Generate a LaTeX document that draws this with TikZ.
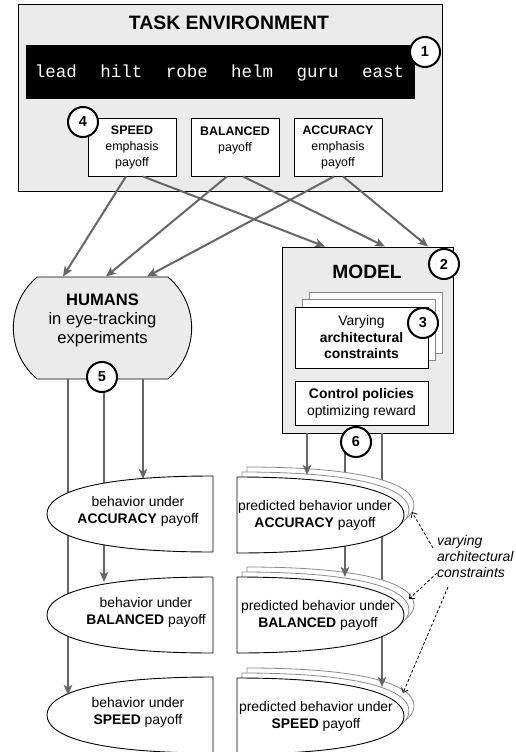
\documentclass[tikz,border=0pt]{standalone}
\usepackage{fontspec}
\setmainfont{Liberation Sans}
\setmonofont{Liberation Mono}
\usetikzlibrary{arrows.meta,positioning,shapes.misc}
\definecolor{envgray}{HTML}{EBEBEB}
\definecolor{flowgray}{HTML}{666666}
\definecolor{stackgray}{HTML}{8A8A8A}
\newcommand{\fs}[2]{\fontsize{#1}{#2}\selectfont}
% half-ellipse outlines of the behaviour boxes (top y as argument)
\newcommand{\humpath}[1]{(213,#1) -- (213,#1+76) .. controls (93,#1+76) and (47,#1+59) .. (47,#1+38) .. controls (47,#1+17) and (93,#1) .. cycle}
\newcommand{\predpath}[2]{(#1,#2) -- (#1,#2+76) .. controls (#1+120,#2+76) and (#1+167,#2+59) .. (#1+167,#2+38) .. controls (#1+167,#2+17) and (#1+120,#2) .. cycle}

\begin{document}
\begin{tikzpicture}[x=1pt,y=-1pt,
  box/.style={draw,line width=0.9pt,fill=white,inner sep=0pt,align=center},
  paybox/.style={box,minimum width=88pt,minimum height=58pt,font=\fs{12.4}{16}},
  stackbox/.style={draw=stackgray,line width=0.8pt,fill=white,inner sep=0pt,minimum width=133pt,minimum height=61pt},
  numdot/.style={circle,draw,line width=2pt,fill=white,minimum size=30pt,inner sep=0pt,font=\fs{14.5}{15}\bfseries},
  flow/.style={flowgray,line width=2pt,-{Stealth[length=10pt,width=8.5pt,inset=2.5pt]}},
  hint/.style={black,line width=0.8pt,dash pattern=on 3pt off 2pt,-{Straight Barb[length=4pt,width=7pt]}},
  txt/.style={align=center,inner sep=0pt,font=\fs{13.9}{17}}]
\useasboundingbox (0,0) rectangle (515,752);

% task environment
\node[draw,line width=1pt,fill=envgray,minimum width=424pt,minimum height=186pt] (taskenv) at (230,98) {};
\node[font=\fs{19.4}{20}\bfseries] (tasktitle) at (229,23) {TASK ENVIRONMENT};
\node[fill=black,minimum width=389pt,minimum height=54pt] (stimuli) at (220.5,72) {};
\foreach \w [count=\i from 0] in {lead,hilt,robe,helm,guru,east}
  \node[anchor=base,text=white,font=\fs{17.5}{18}\ttfamily] (word\i) at (56+65.4*\i,77.5) {\w};
\node[paybox] (speed) at (132,147) {\textbf{SPEED}\\emphasis\\payoff};
\node[paybox] (balanced) at (235,147) {\textbf{BALANCED}\\payoff\\\mbox{}};
\node[paybox] (accuracy) at (338,147) {\textbf{ACCURACY}\\emphasis\\payoff};
\node[numdot] (n1) at (425,52) {1};
\node[numdot] (n4) at (83,122) {4};

% humans
\node[rounded rectangle,rounded rectangle arc length=100,draw,line width=0.9pt,fill=envgray,
  minimum width=185pt,minimum height=102pt,align=center,font=\fs{16.6}{19}] (humans) at (102.5,328)
  {\textbf{HUMANS}\\in eye-tracking\\experiments\\\mbox{}};

% model
\node[draw,line width=0.9pt,fill=envgray,minimum width=171pt,minimum height=186pt] (model) at (367.5,340) {};
\node[font=\fs{19.2}{20}\bfseries] (modeltitle) at (367,272) {MODEL};
\node[stackbox] (constrC) at (375.5,322.5) {};
\node[stackbox] (constrB) at (368.5,330) {};
\node[box,minimum width=133pt,minimum height=61pt,font=\fs{13.9}{16.5}] (constr) at (361.5,337.5)
  {Varying\\\textbf{architectural}\\\textbf{constraints}};
\node[box,minimum width=133pt,minimum height=44pt,font=\fs{13.9}{17}] (policy) at (361.5,403)
  {\textbf{Control policies}\\optimizing reward};
\node[numdot] (n2) at (444,264) {2};
\node[numdot] (n3) at (423,323) {3};

% payoff -> humans / model
\draw[flow] ([xshift=-6pt]speed.south) -- ([xshift=-39.5pt]humans.north);
\draw[flow] ([xshift=11pt]speed.south) -- ([xshift=-42.5pt]model.north);
\draw[flow] ([xshift=-8pt]balanced.south) -- ([xshift=3.5pt]humans.north);
\draw[flow] ([xshift=8pt]balanced.south) -- ([xshift=17.5pt]model.north);
\draw[flow] ([xshift=-4pt]accuracy.south) -- ([xshift=44.5pt]humans.north);
\draw[flow] ([xshift=5pt]accuracy.south) -- ([xshift=60.5pt]model.north);

% observed behaviour, bottom row first so the arrows run behind the upper boxes
\foreach \ty/\ax/\tip/\tx/\nm/\mode in {677/68/695/138/spd/SPEED,577/104/582/146/bal/BALANCED,476/143/479/138/acc/ACCURACY}{
  \draw[line width=0.9pt,fill=white] \humpath{\ty};
  \node[txt] (hum\nm) at (\tx,\ty+35.5) {behavior under\\\textbf{\mode} payoff};
  \draw[flow] (humans.south -| \ax,0) -- (\ax,\tip);}

% predicted behaviour, stacked copies behind
\foreach \ty/\ax/\tip/\tx/\nm/\mode in {678/382/687/316/spd/SPEED,577/345/577/318/bal/BALANCED,477/307/475/315/acc/ACCURACY}{
  \draw[stackgray,line width=0.8pt,fill=white] \predpath{247}{\ty-10};
  \draw[stackgray,line width=0.8pt,fill=white] \predpath{242}{\ty-5};
  \draw[line width=0.9pt,fill=white] \predpath{237}{\ty};
  \node[txt] (pred\nm) at (\tx,\ty+38.5) {predicted behavior under\\\textbf{\mode} payoff};
  \draw[flow] (model.south -| \ax,0) -- (\ax,\tip);}

\node[numdot] (n5) at (102,377) {5};
\node[numdot] (n6) at (356,442) {6};

% note on the stacked copies
\node[anchor=west,align=left,inner sep=0pt,font=\fs{14}{16}\itshape] (varnote) at (437,556)
  {varying\\architectural\\constraints};
\coordinate (accedge) at (412,512);
\coordinate (baledge) at (409,599);
\coordinate (spdedge) at (403,693);
\draw[hint] ([xshift=-4pt,yshift=8pt]varnote.west) -- (accedge);
\draw[hint] ([yshift=-17pt]varnote.west) -- (baledge);
\draw[hint] ([xshift=11pt,yshift=-31pt]varnote.west) -- (spdedge);
\end{tikzpicture}
\end{document}
